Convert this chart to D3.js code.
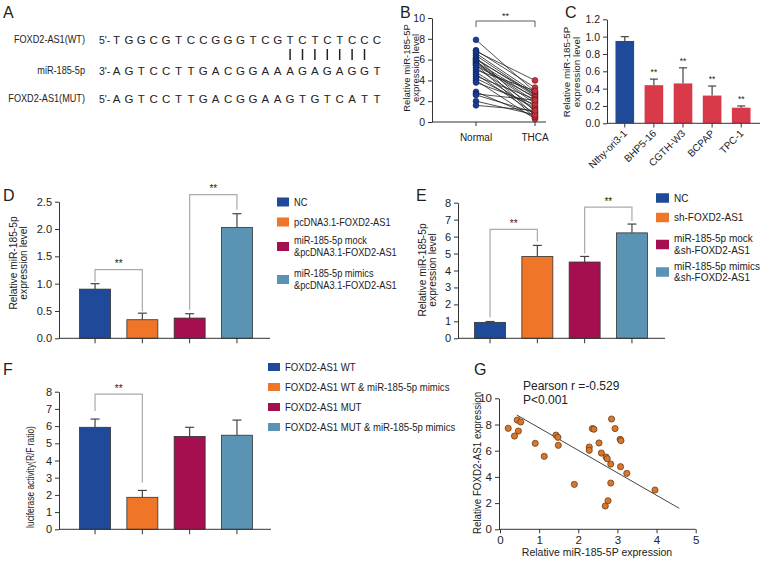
<!DOCTYPE html>
<html><head><meta charset="utf-8">
<script src="https://cdn.jsdelivr.net/npm/d3@7"></script>
<style>
body{margin:0;background:#fff}
svg{display:block;background:#fff}
text{font-family:Arial,"Liberation Sans",sans-serif;fill:#222}
</style>
</head><body>
<svg id="chart" width="766" height="562"></svg>
<script>
// ---------------- DATA ----------------
// Panel A
const seqLabels = ["FOXD2-AS1(WT)", "miR-185-5p", "FOXD2-AS1(MUT)"];
const seqPrefixes = ["5'-", "3'-", "5'-"];
const seqBlack = ["TGGCGTCCGGGTCG", "AGTCCTTGACGGAA", "AGTCCTTGACGGAA"];
const seqRed = ["TCTCTCC", "AGAGAGG", "GTGTCAT"];
const seqTail = ["C", "T", "T"];

// Panel B (paired samples)
const bCategories = ["Normal", "THCA"];
const bNormal = [7.9, 6.9, 6.8, 6.6, 6.4, 6.2, 6.1, 6.0, 5.9, 5.8, 5.7, 5.6, 5.5, 5.4, 5.2, 5.0, 4.8, 4.6, 4.4, 4.2, 4.0, 3.8, 2.9, 2.7, 2.6, 2.0, 1.6];
const bTHCA   = [2.9, 3.3, 4.0, 2.8, 2.6, 1.0, 2.5, 2.7, 0.6, 2.3, 2.0, 1.8, 0.4, 2.4, 1.5, 3.0, 1.2, 0.8, 2.2, 1.4, 0.3, 1.7, 0.5, 2.1, 0.9, 0.7, 1.1];
const bTicks = [0, 2, 4, 6, 8, 10];

// Panel C
const cCells = ["Nthy-ori3-1", "BHP5-16", "CGTH-W3", "BCPAP", "TPC-1"];
const cMeans = [0.95, 0.44, 0.46, 0.32, 0.18];
const cErrs  = [0.05, 0.07, 0.18, 0.11, 0.02];
const cTicks = [0, 0.2, 0.4, 0.6, 0.8, 1.0, 1.2];

// Panel D
const dGroups = ["NC", "pcDNA3.1-FOXD2-AS1", "miR-185-5p mock\n&pcDNA3.1-FOXD2-AS1", "miR-185-5p mimics\n&pcDNA3.1-FOXD2-AS1"];
const dMeans = [0.90, 0.34, 0.37, 2.03];
const dErrs  = [0.10, 0.12, 0.08, 0.25];
const dTicks = [0, 0.5, 1.0, 1.5, 2.0, 2.5];

// Panel E
const eGroups = ["NC", "sh-FOXD2-AS1", "miR-185-5p mock\n&sh-FOXD2-AS1", "miR-185-5p mimics\n&sh-FOXD2-AS1"];
const eMeans = [0.94, 4.83, 4.50, 6.22];
const eErrs  = [0.05, 0.65, 0.33, 0.52];
const eTicks = [0, 1, 2, 3, 4, 5, 6, 7, 8];

// Panel F
const fGroups = ["FOXD2-AS1 WT", "FOXD2-AS1 WT & miR-185-5p mimics", "FOXD2-AS1 MUT", "FOXD2-AS1 MUT & miR-185-5p mimics"];
const fMeans = [5.93, 1.86, 5.40, 5.47];
const fErrs  = [0.48, 0.40, 0.53, 0.88];
const fTicks = [0, 1, 2, 3, 4, 5, 6, 7, 8];

// Panel G
const gX = [0.21, 0.37, 0.44, 0.47, 0.53, 0.90, 1.13, 1.43, 1.48, 1.49, 1.90, 2.28, 2.28, 2.36, 2.40, 2.53, 2.59, 2.71, 2.74, 2.69, 2.76, 2.83, 2.83, 2.85, 2.94, 3.07, 3.09, 3.08, 3.24, 3.96];
const gY = [7.71, 7.12, 8.34, 7.50, 8.19, 6.56, 5.57, 7.19, 7.02, 6.41, 3.43, 6.28, 6.03, 7.69, 7.64, 6.59, 5.82, 5.52, 5.39, 1.78, 2.18, 4.98, 3.53, 8.42, 7.69, 6.87, 6.77, 4.78, 4.27, 3.00];
const gFitX = [0.43, 4.58];
const gFitSlope = -1.716;
const gFitIntercept = 9.46;
const gXTicks = [0, 1, 2, 3, 4, 5];
const gYTicks = [0, 2, 4, 6, 8, 10];
const gStats = ["Pearson r =-0.529", "P<0.001"];

// ---------------- STYLE ----------------
const groupColors = ["#1f4a9a", "#ef7628", "#a50f50", "#5b93b4"];
const blue = "#1f4a9a", red = "#d93a4a", seqRedColor = "#d5342c";
const axisColor = "#333";

const svg = d3.select("#chart");

// horizontally condense a text selection to a fraction of its natural width
function condense(sel, factor) {
  sel.each(function () {
    const w = this.getComputedTextLength();
    d3.select(this).attr("textLength", w * factor).attr("lengthAdjust", "spacingAndGlyphs");
  });
  return sel;
}

function panelLabel(t, x, y) {
  svg.append("text").attr("x", x).attr("y", y).attr("font-size", 16).text(t);
}

function styleAxis(g, fs) {
  g.select(".domain").attr("stroke", axisColor);
  g.selectAll(".tick line").attr("stroke", axisColor);
  g.selectAll(".tick text").attr("font-size", fs).attr("fill", "#222")
    .attr("font-family", 'Arial,"Liberation Sans",sans-serif');
}

function yAxis(scale, x, ticks, fmt, fs) {
  const g = svg.append("g").attr("transform", `translate(${x},0)`)
    .call(d3.axisLeft(scale).tickValues(ticks).tickFormat(fmt).tickSize(4).tickSizeOuter(0).tickPadding(3));
  styleAxis(g, fs);
  return g;
}

function yLabel(lines, x, y, fs, lh, factor) {
  const t = svg.append("text").attr("transform", `translate(${x},${y}) rotate(-90)`)
    .attr("text-anchor", "middle").attr("font-size", fs);
  const spans = [];
  lines.forEach((l, i) => spans.push(t.append("tspan").attr("x", 0).attr("y", i * lh).text(l)));
  if (factor) spans.forEach(s => condense(s, factor));
}

function bracket(x1, x2, yTop, yL, yR, fs) {
  svg.append("path")
    .attr("d", `M${x1},${yL}V${yTop}H${x2}V${yR}`)
    .attr("fill", "none").attr("stroke", "#aaa").attr("stroke-width", 1.2);
  svg.append("text").attr("x", (x1 + x2) / 2).attr("y", yTop - 2.5)
    .attr("text-anchor", "middle").attr("font-size", fs).text("**");
}

function errorBars(x, y, means, errs, keys, capW) {
  keys.forEach((k, i) => {
    const cx = x(k) + x.bandwidth() / 2;
    const y0 = y(means[i]), y1 = y(means[i] + errs[i]);
    svg.append("line").attr("x1", cx).attr("x2", cx).attr("y1", y0).attr("y2", y1)
      .attr("stroke", "#444").attr("stroke-width", 1.2);
    svg.append("line").attr("x1", cx - capW / 2).attr("x2", cx + capW / 2).attr("y1", y1).attr("y2", y1)
      .attr("stroke", "#444").attr("stroke-width", 1.2);
  });
}

// ---------------- PANEL A ----------------
panelLabel("A", 3, 18);
const seqX = d3.scaleLinear().domain([0, 1]).range([116.5, 128.9]);
const rowY = [44, 75, 103];
seqLabels.forEach((lab, r) => {
  const t = svg.append("text").attr("x", 85).attr("y", rowY[r] - 1).attr("text-anchor", "end")
    .attr("font-size", 10.5).text(lab);
  condense(t, 0.87);
  svg.append("text").attr("x", 99).attr("y", rowY[r]).attr("font-size", 10.5).text(seqPrefixes[r]);
  const letters = [...seqBlack[r]].map(c => ({c, col: "#222"}))
    .concat([...seqRed[r]].map(c => ({c, col: seqRedColor})))
    .concat([...seqTail[r]].map(c => ({c, col: "#222"})));
  svg.selectAll(null).data(letters).enter().append("text")
    .attr("x", (d, i) => seqX(i)).attr("y", rowY[r]).attr("text-anchor", "middle")
    .attr("font-size", 11.5).attr("fill", d => d.col).text(d => d.c);
});
d3.range(seqRed[0].length).forEach(i => {
  const x = seqX(seqBlack[0].length + i);
  svg.append("line").attr("x1", x).attr("x2", x).attr("y1", 49).attr("y2", 60)
    .attr("stroke", "#222").attr("stroke-width", 1.5);
});

// ---------------- PANEL B ----------------
panelLabel("B", 400, 18);
{
  const y = d3.scaleLinear().domain([0, 10]).range([122, 18]);
  const x = d3.scalePoint().domain(bCategories).range([476, 535]);
  yAxis(y, 432, bTicks, d3.format("d"), 10.5);
  svg.append("line").attr("x1", 432).attr("x2", 546).attr("y1", 122).attr("y2", 122).attr("stroke", axisColor);
  bCategories.forEach(c => {
    svg.append("line").attr("x1", x(c)).attr("x2", x(c)).attr("y1", 122).attr("y2", 126).attr("stroke", axisColor);
    svg.append("text").attr("x", x(c)).attr("y", 141).attr("text-anchor", "middle").attr("font-size", 10).text(c);
  });
  yLabel(["Relative miR-185-5P", "expression level"], 410, 68, 9.5, 9);
  bNormal.forEach((v, i) => {
    svg.append("line").attr("x1", x("Normal")).attr("y1", y(v)).attr("x2", x("THCA")).attr("y2", y(bTHCA[i]))
      .attr("stroke", "#222").attr("stroke-width", 0.8);
  });
  svg.selectAll(null).data(bNormal).enter().append("circle")
    .attr("cx", x("Normal")).attr("cy", d => y(d)).attr("r", 2.9)
    .attr("fill", "#1a3d8f").attr("stroke", "#0d2360").attr("stroke-width", 0.6);
  svg.selectAll(null).data(bTHCA).enter().append("circle")
    .attr("cx", x("THCA")).attr("cy", d => y(d)).attr("r", 2.9)
    .attr("fill", "#c8323e").attr("stroke", "#5a1018").attr("stroke-width", 0.6);
  svg.append("path").attr("d", `M${x("Normal")},27V21H${x("THCA")}V27`)
    .attr("fill", "none").attr("stroke", "#333").attr("stroke-width", 0.8);
  svg.append("text").attr("x", (x("Normal") + x("THCA")) / 2).attr("y", 19).attr("text-anchor", "middle")
    .attr("font-size", 9).text("**");
}

// ---------------- PANEL C ----------------
panelLabel("C", 565, 18);
{
  const y = d3.scaleLinear().domain([0, 1.2]).range([123.3, 19.3]);
  const x = d3.scaleBand().domain(cCells).range([605, 761]).padding(0.36);
  yAxis(y, 607, cTicks, d3.format(".1f"), 10.5);
  svg.selectAll(null).data(cCells).enter().append("rect")
    .attr("x", d => x(d)).attr("width", x.bandwidth())
    .attr("y", (d, i) => y(cMeans[i])).attr("height", (d, i) => y(0) - y(cMeans[i]))
    .attr("fill", (d, i) => i === 0 ? blue : red);
  errorBars(x, y, cMeans, cErrs, cCells, 8);
  svg.append("line").attr("x1", 607).attr("x2", 760).attr("y1", 123.3).attr("y2", 123.3).attr("stroke", axisColor);
  cCells.forEach((c, i) => {
    const cx = x(c) + x.bandwidth() / 2;
    svg.append("line").attr("x1", cx).attr("x2", cx).attr("y1", 123.3).attr("y2", 127.5).attr("stroke", axisColor);
    svg.append("text").attr("transform", `translate(${cx + 3},${134}) rotate(-45)`)
      .attr("text-anchor", "end").attr("font-size", 10).text(c);
    if (i > 0) {
      svg.append("text").attr("x", cx).attr("y", y(cMeans[i] + cErrs[i]) - 4)
        .attr("text-anchor", "middle").attr("font-size", 8.5).text("**");
    }
  });
  yLabel(["Relative miR-185-5P", "expression level"], 569.5, 72, 9.8, 10.5);
}

// ---------------- Bar panel helper (D, E, F) ----------------
function barPanel(cfg) {
  const y = d3.scaleLinear().domain(cfg.domain).range(cfg.yRange);
  const keys = cfg.groups;
  const x = d3.scaleBand().domain(keys).range(cfg.xRange).paddingInner(0.345).paddingOuter(0.35);
  yAxis(y, cfg.axisX, cfg.ticks, cfg.fmt, cfg.tickFs);
  svg.selectAll(null).data(keys).enter().append("rect")
    .attr("x", d => x(d)).attr("width", x.bandwidth())
    .attr("y", (d, i) => y(cfg.means[i])).attr("height", (d, i) => y(0) - y(cfg.means[i]))
    .attr("fill", (d, i) => groupColors[i]).attr("stroke", "#333").attr("stroke-width", 0.8);
  errorBars(x, y, cfg.means, cfg.errs, keys, 9);
  svg.append("line").attr("x1", cfg.axisX).attr("x2", cfg.axisEnd).attr("y1", y(0)).attr("y2", y(0)).attr("stroke", axisColor);
  keys.forEach(k => {
    const cx = x(k) + x.bandwidth() / 2;
    svg.append("line").attr("x1", cx).attr("x2", cx).attr("y1", y(0)).attr("y2", y(0) + 5).attr("stroke", axisColor);
  });
  cfg.brackets.forEach(b => {
    const cx1 = x(keys[b.a]) + x.bandwidth() / 2, cx2 = x(keys[b.b]) + x.bandwidth() / 2;
    const tA = y(cfg.means[b.a] + cfg.errs[b.a]), tB = y(cfg.means[b.b] + cfg.errs[b.b]);
    const top = Math.min(tA, tB) - b.lift;
    bracket(cx1, cx2, top, tA - b.gap, tB - b.gap, 10);
  });
  return {x, y};
}

function legend(items, x, ys, fs, lh, sw, sh, factor) {
  items.forEach((it, i) => {
    const lines = it.split("\n");
    const cy = ys[i];
    svg.append("rect").attr("x", x).attr("y", cy - sh / 2).attr("width", sw).attr("height", sh)
      .attr("fill", groupColors[i]);
    const t = svg.append("text").attr("x", x + sw + 5).attr("font-size", fs);
    const y0 = cy - (lines.length - 1) * lh / 2 + fs * 0.35;
    lines.forEach((l, j) => {
      const s = t.append("tspan").attr("x", x + sw + 5).attr("y", y0 + j * lh).text(l);
      if (factor) condense(s, factor);
    });
  });
}

// ---------------- PANEL D ----------------
panelLabel("D", 3, 201);
barPanel({
  domain: [0, 2.5], yRange: [338.3, 201.7], xRange: [63, 269], axisX: 59, axisEnd: 270,
  ticks: dTicks, fmt: d3.format(".1f"), tickFs: 11,
  groups: dGroups, means: dMeans, errs: dErrs,
  brackets: [{a: 0, b: 1, lift: 14, gap: 2}, {a: 2, b: 3, lift: 19, gap: 4}]
});
yLabel(["Relative miR-185-5p", "expression level"], 16.5, 263, 11, 10.3, 0.93);
legend(dGroups, 277, [202, 222, 246.5, 279.5], 10.5, 11.5, 12, 9, 0.88);

// ---------------- PANEL E ----------------
panelLabel("E", 416, 201);
barPanel({
  domain: [0, 8], yRange: [338.3, 202.7], xRange: [458, 664], axisX: 458, axisEnd: 665,
  ticks: eTicks, fmt: d3.format("d"), tickFs: 11,
  groups: eGroups, means: eMeans, errs: eErrs,
  brackets: [{a: 0, b: 1, lift: 16, gap: 4}, {a: 2, b: 3, lift: 17, gap: 3}]
});
yLabel(["Relative miR-185-5p", "expression level"], 425.5, 270, 11, 10.3, 0.93);
legend(eGroups, 656, [198, 217.5, 244.5, 272], 10.3, 11.5, 13, 9.5, 0.97);

// ---------------- PANEL F ----------------
panelLabel("F", 3, 375);
barPanel({
  domain: [0, 8], yRange: [529.3, 391.7], xRange: [63, 269], axisX: 59, axisEnd: 271,
  ticks: fTicks, fmt: d3.format("d"), tickFs: 11,
  groups: fGroups, means: fMeans, errs: fErrs,
  brackets: [{a: 0, b: 1, lift: 25, gap: 8}]
});
yLabel(["luciferase activity(R/F ratio)"], 34, 477, 10.5, 11, 0.8);
legend(fGroups, 268, [367, 387, 407, 427], 10.5, 11, 12, 8, 0.91);

// ---------------- PANEL G ----------------
panelLabel("G", 474, 375);
{
  const x = d3.scaleLinear().domain([0, 5]).range([500, 695.7]);
  const y = d3.scaleLinear().domain([0, 10]).range([529.3, 398.3]);
  yAxis(y, 499, gYTicks, d3.format("d"), 11.5);
  const gx = svg.append("g").attr("transform", "translate(0,529.3)")
    .call(d3.axisBottom(x).tickValues(gXTicks).tickFormat(d3.format("d")).tickSize(4).tickSizeOuter(0).tickPadding(3));
  styleAxis(gx, 11.5);
  gx.select(".domain").attr("d", "M499,0H695.7");
  svg.append("line")
    .attr("x1", x(gFitX[0])).attr("y1", y(gFitIntercept + gFitSlope * gFitX[0]))
    .attr("x2", x(gFitX[1])).attr("y2", y(gFitIntercept + gFitSlope * gFitX[1]))
    .attr("stroke", "#444").attr("stroke-width", 1);
  svg.selectAll(null).data(gX).enter().append("circle")
    .attr("cx", d => x(d)).attr("cy", (d, i) => y(gY[i])).attr("r", 3.1)
    .attr("fill", "#d6772d").attr("stroke", "#5e3210").attr("stroke-width", 0.7);
  svg.append("text").attr("x", 597).attr("y", 556).attr("text-anchor", "middle").attr("font-size", 10.5)
    .text("Relative miR-185-5P expression");
  yLabel(["Relative FOXD2-AS1 expression"], 481, 463, 10.5, 11, 0.93);
  gStats.forEach((s, i) => svg.append("text").attr("x", 523).attr("y", 390 + i * 13.5).attr("font-size", 12).text(s));
}
</script>
</body></html>
